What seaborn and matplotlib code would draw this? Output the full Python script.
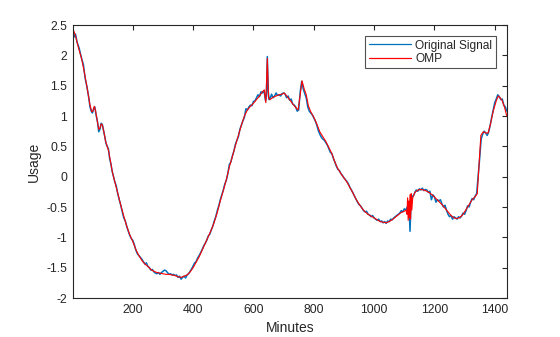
import numpy as np
import pandas as pd
import matplotlib
matplotlib.use("Agg")
import matplotlib.pyplot as plt
import seaborn as sns

# Original usage signal, sampled in minutes
orig_min = [1, 5, 10, 15, 22, 30, 36, 42, 48, 54, 58, 62, 66, 70, 74, 78, 83, 87, 91, 95,
            99, 103, 107, 111, 115, 119, 123, 127, 131, 135, 140, 145, 150, 155, 160, 165,
            170, 175, 180, 185, 190, 195, 200, 205, 210, 215, 220, 225, 230, 235, 240, 245,
            250, 255, 260, 265, 270, 275, 280, 285, 290, 295, 300, 305, 310, 315, 320, 325,
            330, 335, 340, 345, 350, 355, 360, 365, 370, 375, 380, 385, 390, 395, 400, 405,
            410, 415, 420, 425, 430, 435, 440, 445, 450, 455, 460, 465, 470, 475, 480, 485,
            490, 495, 500, 505, 510, 515, 520, 525, 530, 535, 540, 545, 550, 555, 560, 565,
            570, 575, 580, 585, 590, 595, 600, 605, 610, 615, 620, 625, 630, 635, 640, 643,
            646, 649, 652, 656, 660, 665, 670, 675, 680, 685, 690, 695, 700, 705, 710, 715,
            720, 725, 730, 735, 740, 745, 750, 755, 760, 765, 770, 775, 780, 785, 790, 795,
            800, 805, 810, 815, 820, 825, 830, 835, 840, 845, 850, 855, 860, 865, 870, 875,
            880, 885, 890, 895, 900, 905, 910, 915, 920, 925, 930, 935, 940, 945, 950, 955,
            960, 965, 970, 975, 980, 985, 990, 995, 1000, 1005, 1010, 1015, 1020, 1025, 1030,
            1035, 1040, 1045, 1050, 1055, 1060, 1065, 1070, 1075, 1080, 1085, 1090, 1095,
            1100, 1105, 1110, 1113, 1116, 1119, 1122, 1125, 1128, 1132, 1136, 1140, 1145,
            1150, 1155, 1160, 1165, 1170, 1175, 1180, 1185, 1190, 1195, 1200, 1205, 1210,
            1215, 1220, 1225, 1230, 1235, 1240, 1245, 1250, 1255, 1260, 1265, 1270, 1275,
            1280, 1285, 1290, 1295, 1300, 1305, 1310, 1315, 1320, 1325, 1330, 1335, 1340,
            1345, 1350, 1355, 1360, 1365, 1370, 1375, 1380, 1385, 1390, 1395, 1400, 1405,
            1410, 1415, 1420, 1425, 1430, 1435, 1440]
orig_val = [2.40, 2.30, 2.35, 2.22, 2.12, 1.95, 1.85, 1.62, 1.48, 1.30, 1.15, 1.08, 1.05, 1.12,
            1.15, 1.02, 0.90, 0.74, 0.78, 0.88, 0.86, 0.76, 0.66, 0.55, 0.50, 0.46, 0.30, 0.22,
            0.10, 0.02, -0.08, -0.15, -0.28, -0.38, -0.47, -0.58, -0.68, -0.73, -0.82, -0.90,
            -0.97, -1.02, -1.05, -1.12, -1.21, -1.27, -1.30, -1.33, -1.36, -1.40, -1.44, -1.42,
            -1.48, -1.50, -1.54, -1.53, -1.57, -1.59, -1.60, -1.58, -1.61, -1.58, -1.56, -1.54,
            -1.55, -1.58, -1.61, -1.60, -1.62, -1.61, -1.63, -1.62, -1.66, -1.64, -1.69, -1.66,
            -1.64, -1.67, -1.62, -1.60, -1.56, -1.52, -1.47, -1.42, -1.40, -1.34, -1.30, -1.25,
            -1.20, -1.14, -1.10, -1.05, -0.98, -0.95, -0.88, -0.82, -0.73, -0.66, -0.56, -0.48,
            -0.38, -0.30, -0.22, -0.12, -0.06, 0.05, 0.20, 0.24, 0.34, 0.42, 0.53, 0.60, 0.66,
            0.78, 0.85, 0.92, 0.98, 1.12, 1.10, 1.15, 1.18, 1.17, 1.24, 1.25, 1.30, 1.35, 1.32,
            1.40, 1.38, 1.42, 1.25, 1.32, 1.98, 1.40, 1.27, 1.30, 1.36, 1.30, 1.33, 1.38, 1.34,
            1.35, 1.33, 1.37, 1.38, 1.36, 1.30, 1.33, 1.26, 1.28, 1.20, 1.18, 1.15, 1.08, 1.10,
            1.40, 1.57, 1.45, 1.37, 1.30, 1.15, 1.08, 1.05, 1.02, 0.97, 0.92, 0.85, 0.76, 0.70,
            0.65, 0.62, 0.60, 0.56, 0.52, 0.46, 0.40, 0.38, 0.30, 0.24, 0.17, 0.12, 0.10, 0.05,
            0.02, -0.02, -0.05, -0.08, -0.12, -0.18, -0.22, -0.27, -0.32, -0.37, -0.42, -0.46,
            -0.48, -0.52, -0.56, -0.58, -0.57, -0.62, -0.63, -0.66, -0.64, -0.68, -0.70, -0.72,
            -0.70, -0.74, -0.73, -0.76, -0.74, -0.77, -0.73, -0.74, -0.70, -0.71, -0.68, -0.66,
            -0.64, -0.62, -0.60, -0.56, -0.58, -0.53, -0.55, -0.50, -0.56, -0.45, -0.90, -0.50,
            -0.35, -0.32, -0.30, -0.25, -0.22, -0.24, -0.20, -0.22, -0.19, -0.23, -0.21, -0.22,
            -0.26, -0.24, -0.38, -0.30, -0.33, -0.42, -0.38, -0.40, -0.38, -0.45, -0.50, -0.47,
            -0.55, -0.62, -0.66, -0.64, -0.70, -0.66, -0.68, -0.70, -0.66, -0.68, -0.65, -0.60,
            -0.62, -0.56, -0.48, -0.50, -0.42, -0.36, -0.38, -0.32, -0.28, 0.00, 0.30, 0.62,
            0.70, 0.75, 0.72, 0.68, 0.74, 0.85, 0.98, 1.10, 1.22, 1.28, 1.35, 1.32, 1.27, 1.28,
            1.18, 1.15, 1.08]

# OMP reconstruction of the same signal
omp_min = [1, 10, 20, 30, 40, 50, 58, 64, 68, 72, 76, 82, 87, 91, 95, 99, 104, 110, 115, 120,
           126, 132, 140, 150, 160, 170, 180, 190, 200, 210, 220, 230, 240, 250, 260, 270,
           280, 290, 300, 310, 320, 330, 340, 350, 360, 370, 380, 390, 400, 410, 420, 430,
           440, 450, 460, 470, 480, 490, 500, 510, 520, 530, 540, 550, 560, 570, 580, 590,
           600, 610, 620, 630, 636, 641, 646, 650, 655, 665, 675, 685, 695, 702, 710, 720,
           730, 740, 748, 755, 761, 768, 775, 782, 790, 800, 810, 820, 830, 840, 850, 860,
           870, 880, 890, 900, 910, 920, 930, 940, 950, 960, 970, 980, 990, 1000, 1010, 1020,
           1030, 1040, 1050, 1060, 1070, 1080, 1090, 1100, 1106, 1109, 1111, 1113, 1115, 1117,
           1119, 1121, 1123, 1125, 1128, 1135, 1145, 1155, 1165, 1175, 1185, 1195, 1205, 1215,
           1225, 1235, 1245, 1255, 1265, 1275, 1285, 1295, 1305, 1315, 1325, 1335, 1342, 1348,
           1354, 1362, 1370, 1378, 1385, 1395, 1405, 1412, 1418, 1425, 1432, 1440]
omp_val = [2.45, 2.32, 2.12, 1.95, 1.70, 1.42, 1.18, 1.07, 1.08, 1.16, 1.10, 0.92, 0.78, 0.80,
           0.87, 0.85, 0.74, 0.58, 0.50, 0.42, 0.25, 0.08, -0.08, -0.27, -0.47, -0.65, -0.82,
           -0.96, -1.07, -1.20, -1.30, -1.38, -1.44, -1.48, -1.53, -1.56, -1.58, -1.59, -1.60,
           -1.61, -1.61, -1.62, -1.63, -1.65, -1.66, -1.64, -1.62, -1.57, -1.50, -1.41, -1.32,
           -1.21, -1.10, -0.99, -0.88, -0.75, -0.59, -0.40, -0.23, -0.05, 0.16, 0.33, 0.51,
           0.68, 0.85, 1.00, 1.10, 1.16, 1.21, 1.27, 1.33, 1.40, 1.43, 1.22, 1.95, 1.30, 1.27,
           1.31, 1.33, 1.35, 1.36, 1.38, 1.33, 1.27, 1.20, 1.14, 1.10, 1.35, 1.58, 1.45, 1.35,
           1.17, 1.07, 0.98, 0.87, 0.74, 0.66, 0.58, 0.48, 0.38, 0.24, 0.13, 0.05, -0.02,
           -0.09, -0.18, -0.27, -0.37, -0.45, -0.52, -0.58, -0.62, -0.65, -0.68, -0.71, -0.74,
           -0.75, -0.76, -0.74, -0.71, -0.67, -0.63, -0.59, -0.57, -0.55, -0.62, -0.35, -0.72,
           -0.40, -0.68, -0.30, -0.70, -0.28, -0.55, -0.35, -0.26, -0.22, -0.21, -0.22, -0.24,
           -0.27, -0.31, -0.36, -0.41, -0.46, -0.52, -0.58, -0.64, -0.68, -0.69, -0.67, -0.62,
           -0.54, -0.46, -0.38, -0.33, -0.28, 0.20, 0.68, 0.74, 0.72, 0.72, 0.85, 1.08, 1.25,
           1.33, 1.30, 1.25, 1.15, 1.00]

x_ticks = [200, 400, 600, 800, 1000, 1200, 1400]
y_ticks = [-2, -1.5, -1, -0.5, 0, 0.5, 1, 1.5, 2, 2.5]
y_tick_labels = ["-2", "-1.5", "-1", "-0.5", "0", "0.5", "1", "1.5", "2", "2.5"]

sns.set_style("white")
plt.rcParams["font.family"] = ["Liberation Sans", "DejaVu Sans"]
plt.rcParams["axes.unicode_minus"] = False

orig_df = pd.DataFrame({"Minutes": orig_min, "Usage": orig_val})
omp_df = pd.DataFrame({"Minutes": omp_min, "Usage": omp_val})

fig = plt.figure(figsize=(5.6, 3.37), dpi=100)
ax = fig.add_axes([0.13, 0.1157, 0.775, 0.8101])

sns.lineplot(data=orig_df, x="Minutes", y="Usage", ax=ax, color="#0072BD",
             linewidth=1.1, label="Original Signal", estimator=None, sort=False)
sns.lineplot(data=omp_df, x="Minutes", y="Usage", ax=ax, color="#FF0000",
             linewidth=0.8, label="OMP", estimator=None, sort=False)

ax.set_xlim(1, 1440)
ax.set_ylim(-2, 2.5)
ax.set_xticks(x_ticks)
ax.set_yticks(y_ticks)
ax.set_yticklabels(y_tick_labels)

dark = "#262626"
for side in ["left", "right", "top", "bottom"]:
    ax.spines[side].set_visible(True)
    ax.spines[side].set_color(dark)
    ax.spines[side].set_linewidth(0.8)
ax.tick_params(axis="both", which="both", direction="in", length=3.5, width=0.8,
               colors=dark, labelsize=8.8, top=True, right=True, pad=4)
ax.set_xlabel("Minutes", fontsize=10, color=dark, labelpad=4)
ax.set_ylabel("Usage", fontsize=10, color=dark, labelpad=4)

leg = ax.legend(loc="upper right", bbox_to_anchor=(0.975, 0.96), frameon=True,
                fancybox=False, fontsize=8.6, handlelength=3.5, handletextpad=0.4,
                borderpad=0.3, labelspacing=0.1, borderaxespad=0)
leg.get_frame().set_edgecolor(dark)
leg.get_frame().set_linewidth(0.8)
for line in leg.get_lines():
    line.set_linewidth(0.9)

fig.savefig("out.png", dpi=100)
